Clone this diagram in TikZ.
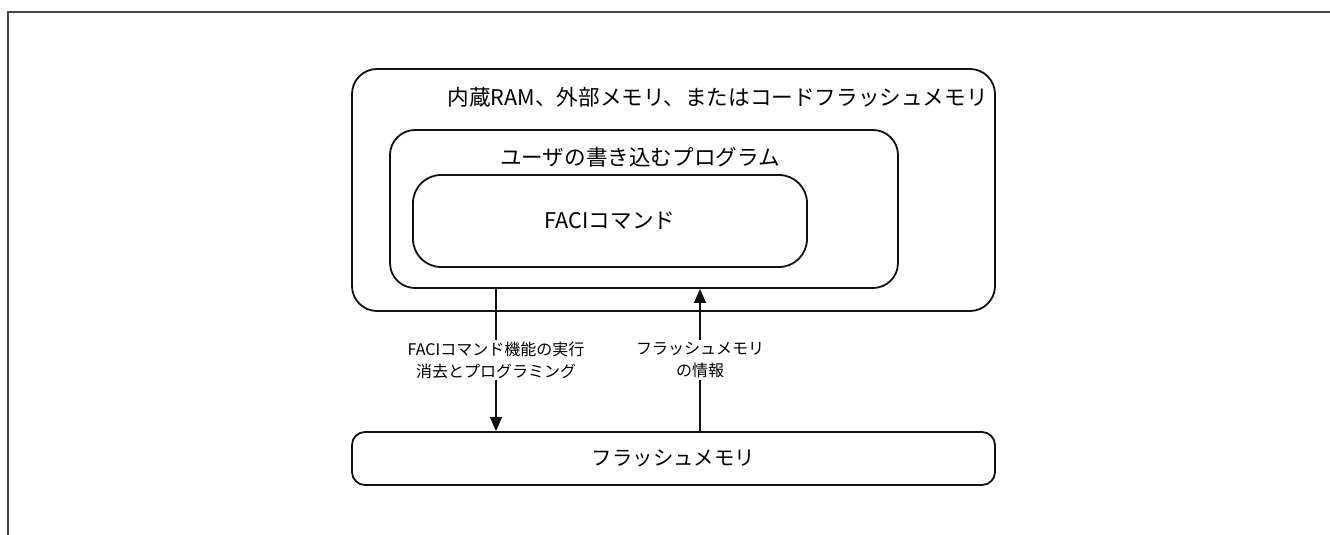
\documentclass[tikz,border=0pt]{standalone}
\usepackage{fontspec}
\setmainfont{Noto Sans CJK JP}
\usetikzlibrary{arrows.meta}
\definecolor{frameGray}{HTML}{454545}
\definecolor{boxInk}{HTML}{111111}
\tikzset{
  membox/.style={draw=boxInk, line width=0.9pt, fill=none, inner sep=0pt},
  flowline/.style={draw=boxInk, line width=0.7pt},
  flowlbl/.style={fill=white, font=\fontsize{8pt}{11pt}\selectfont, align=center, inner sep=1pt}
}

\begin{document}
\begin{tikzpicture}[x=0.5pt, y=-0.5pt]
\useasboundingbox (0,0) rectangle (1330,535);
\draw[frameGray, line width=1pt] (8,535) -- (8,12) -- (1330,12);
\node[membox, rounded corners=12.5pt, minimum width=321.5pt, minimum height=121pt] (ram) at (673.5,190) {};
\node[anchor=east, inner sep=0pt, font=\fontsize{10.8pt}{13pt}\selectfont] (ramlbl) at (988,97) {内蔵RAM、外部メモリ、またはコードフラッシュメモリ};
\node[membox, rounded corners=12.5pt, minimum width=254pt, minimum height=79pt] (prog) at (644,209) {};
\node[font=\fontsize{10.8pt}{13pt}\selectfont] (proglbl) at (640,157) {ユーザの書き込むプログラム};
\node[membox, rounded corners=14pt, minimum width=197pt, minimum height=46pt, font=\fontsize{10.8pt}{13pt}\selectfont] (faci) at (610,221) {FACIコマンド};
\node[membox, rounded corners=6.5pt, minimum width=321.5pt, minimum height=26.5pt, font=\fontsize{10.2pt}{12pt}\selectfont] (flash) at (673.5,458.5) {フラッシュメモリ};
% command path down, status path up
\draw[flowline, -{Triangle[width=6pt, length=7pt]}] ([xshift=-74pt]prog.south) -- ([xshift=-74pt]prog.south |- flash.north)
  node[flowlbl, midway] (cmdlbl) {FACIコマンド機能の実行\\消去とプログラミング};
\draw[flowline, -{Triangle[width=6pt, length=7pt]}] ([xshift=28pt]prog.south |- flash.north) -- ([xshift=28pt]prog.south)
  node[flowlbl, midway] (infolbl) {フラッシュメモリ\\の情報};
\end{tikzpicture}
\end{document}
